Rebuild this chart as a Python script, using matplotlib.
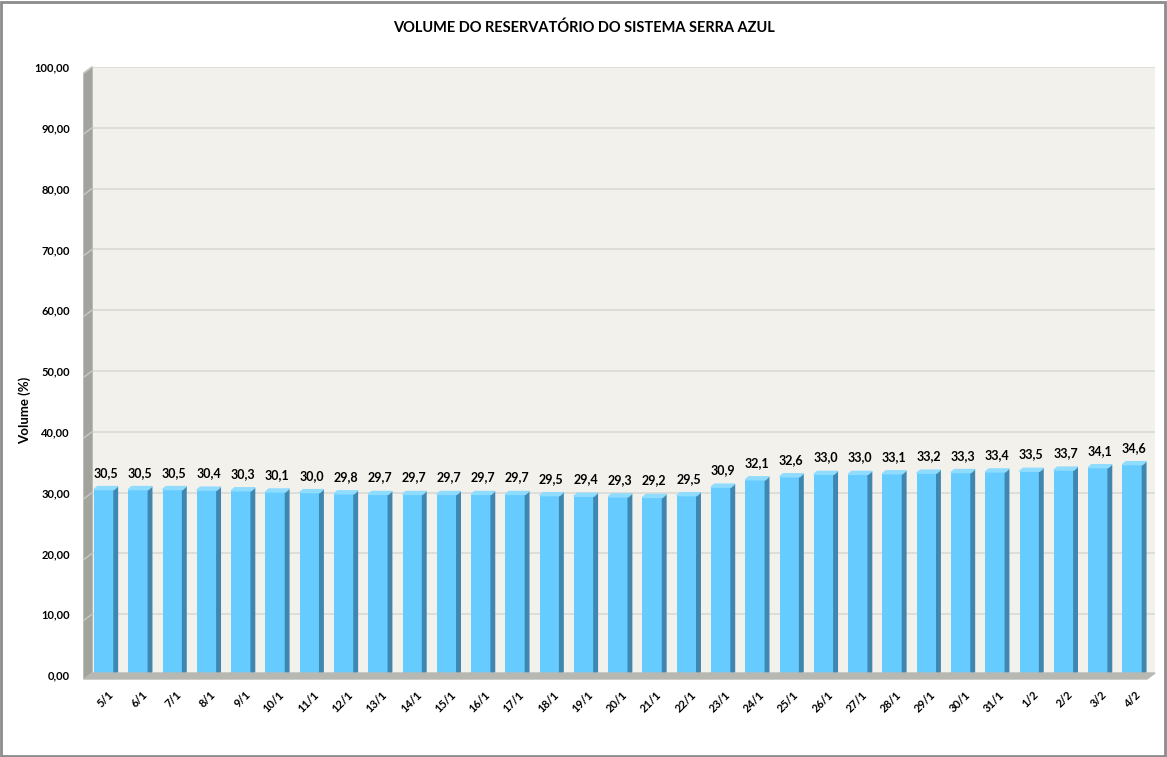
import numpy as np
import matplotlib.pyplot as plt
from matplotlib.patches import Polygon

plt.rcParams['font.family'] = ['Lato', 'DejaVu Sans']

# data
dates = ['5/1', '6/1', '7/1', '8/1', '9/1', '10/1', '11/1', '12/1', '13/1', '14/1',
         '15/1', '16/1', '17/1', '18/1', '19/1', '20/1', '21/1', '22/1', '23/1', '24/1',
         '25/1', '26/1', '27/1', '28/1', '29/1', '30/1', '31/1', '1/2', '2/2', '3/2', '4/2']
volume = [30.5, 30.5, 30.5, 30.4, 30.3, 30.1, 30.0, 29.8, 29.7, 29.7,
          29.7, 29.7, 29.7, 29.5, 29.4, 29.3, 29.2, 29.5, 30.9, 32.1,
          32.6, 33.0, 33.0, 33.1, 33.2, 33.3, 33.4, 33.5, 33.7, 34.1, 34.6]
yticks = np.arange(0, 101, 10)

W, H = 1167, 757
fig = plt.figure(figsize=(W / 100, H / 100), dpi=100)

# axes box in pixel coords (back wall)
x0, x1, ytop, ybot = 92, 1155, 67, 675
ax = fig.add_axes([x0 / W, 1 - ybot / H, (x1 - x0) / W, (ybot - ytop) / H])
ax.set_facecolor('#f2f1ec')
ax.set_xlim(-0.35, 30.66)
ax.set_ylim(0, 100)

for v in yticks[1:]:
    ax.axhline(v, color='#d9d9d6', lw=1.2, zorder=0)

# pixel -> data helpers for the fake 3d depth
px_x = 31.01 / (x1 - x0)
px_y = 100 / (ybot - ytop)
dx, dy = 3.5 * px_x, 3 * px_y
w = 0.583

xs = np.arange(len(volume))
ax.bar(xs, volume, width=w, color='#66ccff', edgecolor='none', zorder=3)
for x, v in zip(xs, volume):
    r, l = x + w / 2, x - w / 2
    ax.add_patch(Polygon([(r, 0), (r + dx, dy), (r + dx, v + dy), (r, v)],
                         closed=True, color='#3f86b0', zorder=3))
    ax.add_patch(Polygon([(l, v), (l + dx, v + dy), (r + dx, v + dy), (r, v)],
                         closed=True, color='#8fdcff', zorder=3))
    ax.text(x + dx / 2, v + dy + 1.3, f'{v:.1f}'.replace('.', ','),
            ha='center', va='bottom', fontsize=9, fontweight='bold', zorder=4)

for s in ax.spines.values():
    s.set_visible(False)
ax.tick_params(length=0)
ax.set_yticks(yticks)
ax.set_yticklabels([f'{v:.2f}'.replace('.', ',') for v in yticks],
                   fontsize=8, fontweight='bold')
ax.tick_params(axis='y', pad=16)
ax.set_xticks(xs + 0.1)
ax.set_xticklabels(dates, rotation=45, ha='right', rotation_mode='anchor',
                   fontsize=8, fontweight='bold')
ax.tick_params(axis='x', pad=10)
fig.text(25 / W, 1 - 410 / H, 'Volume (%)', rotation=90, ha='center', va='center',
         fontsize=9.5, fontweight='bold')

# left wall and floor in figure pixels
def fp(px, py):
    return (px / W, 1 - py / H)

fig.patches.append(Polygon([fp(84, ytop + 6), fp(x0, ytop), fp(x0, ybot - 2), fp(84, ybot + 4)],
                           closed=True, color='#a3a39e', transform=fig.transFigure, zorder=1))
fig.patches.append(Polygon([fp(84, ybot + 4), fp(x0, ybot - 2), fp(x1, ybot - 2), fp(x1 - 8, ybot + 4)],
                           closed=True, color='#b8b8b2', transform=fig.transFigure, zorder=1))
for v in yticks[1:]:
    yb = ybot - v * (ybot - ytop) / 100
    fig.lines.append(plt.Line2D([84 / W, x0 / W], [1 - (yb + 6) / H, 1 - yb / H],
                                color='#c8c8c4', lw=1, transform=fig.transFigure))

# outer frame
fig.patches.append(plt.Rectangle((0.001, 0.001), 0.997, 0.997, fill=False, ec='#8c8c8c',
                                 lw=2, transform=fig.transFigure))

fig.suptitle('VOLUME DO RESERVATÓRIO DO SISTEMA SERRA AZUL', y=1 - 20 / H,
             fontsize=10.5, fontweight='bold')

plt.savefig('out.png', dpi=100)
